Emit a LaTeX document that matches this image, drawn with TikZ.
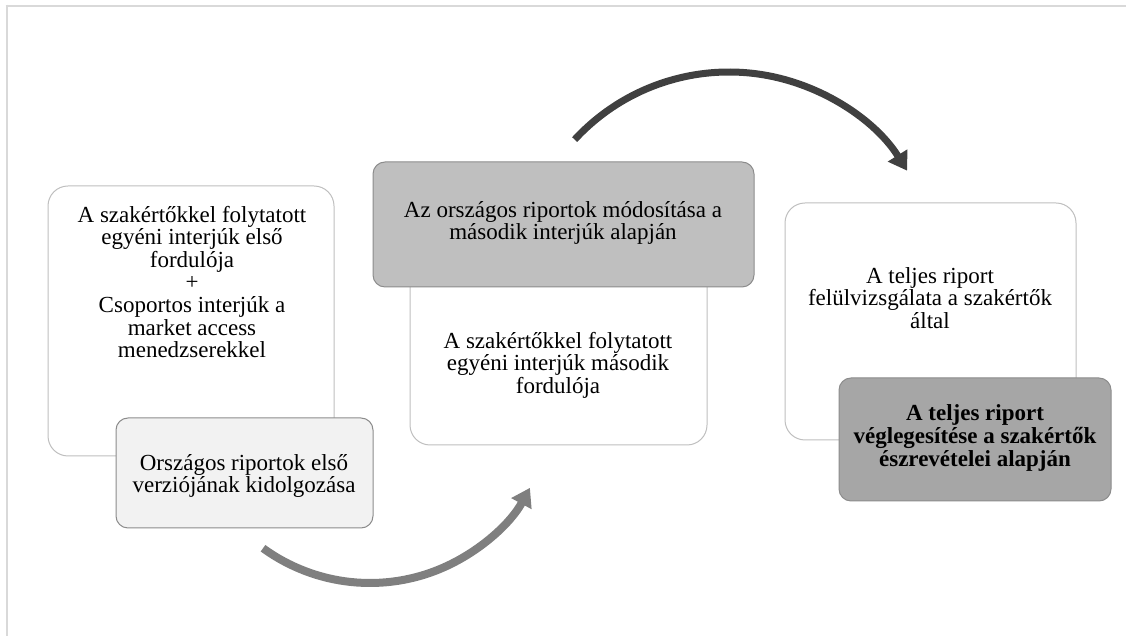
\documentclass[tikz,border=0pt]{standalone}
\usepackage{fontspec}
\setmainfont{Liberation Serif}
\usetikzlibrary{arrows.meta,calc}
\definecolor{frameline}{HTML}{D9D9D9}
\definecolor{whiteborder}{HTML}{BFBFBF}
\definecolor{lightfill}{HTML}{F2F2F2}
\definecolor{midfill}{HTML}{BFBFBF}
\definecolor{darkfill}{HTML}{A6A6A6}
\definecolor{boxborder}{HTML}{8C8C8C}
\definecolor{arrowlight}{HTML}{7F7F7F}
\definecolor{arrowdark}{HTML}{404040}
\begin{document}
\begin{tikzpicture}[x=1pt,y=1pt,
  whitebox/.style={draw=whiteborder, line width=1pt, fill=white, rounded corners=20pt, inner sep=0pt},
  graybox/.style={draw=boxborder, line width=1pt, rounded corners=12pt, inner sep=0pt},
  txt/.style={align=center, inner sep=0pt, font=\fontsize{23}{22.6}\selectfont},
  flowarrow/.style={line width=#1, line cap=butt}
]
\useasboundingbox (0,0) rectangle (1126,636);
% frame lines
\draw[frameline, line width=2pt] (5.5,630.3) -- (1126,630.3);
\draw[frameline, line width=2pt] (6.5,631.3) -- (6.5,0);

% white (back) boxes
\node[whitebox, minimum width=286pt, minimum height=270pt] (b1) at (191,315) {};
\node[whitebox, minimum width=297pt, minimum height=270pt] (b2) at (558.5,326) {};
\node[whitebox, minimum width=291pt, minimum height=237pt] (b3) at (930.5,314.5) {};

% front boxes
\node[graybox, fill=lightfill, minimum width=257pt, minimum height=110pt] (f1) at (244.5,163) {};
\node[graybox, fill=midfill, minimum width=381pt, minimum height=125pt] (f2) at (563.5,411.5) {};
\node[graybox, fill=darkfill, minimum width=272pt, minimum height=123pt] (f3) at (975,196.5) {};

% texts
\node[txt] (t1) at (192,354) {A szakértőkkel folytatott\\egyéni interjúk első\\fordulója\\+\\Csoportos interjúk a\\market access\\menedzserekkel};
\node[txt] (t1b) at (244,160) {Országos riportok első\\verziójának kidolgozása};
\node[txt] (t2top) at (563,413) {Az országos riportok módosítása a\\második interjúk alapján};
\node[txt] (t2) at (558,271) {A szakértőkkel folytatott\\egyéni interjúk második\\fordulója};
\node[txt] (t3) at (930,338) {A teljes riport\\felülvizsgálata a szakértők\\által};
\node[txt, font=\fontsize{23}{22.6}\selectfont\bfseries] (t3b) at (975,198) {A teljes riport\\véglegesítése a szakértők\\észrevételei alapján};

% arrows
\coordinate (c1) at (370,235);
\coordinate (c2) at (729,354);
\draw[arrowlight, line width=8pt, -{Triangle[length=18pt,width=22pt]}]
  ($(c1)+(234:182)$) arc[start angle=234, end angle=331.5, radius=182];
\draw[arrowdark, line width=7pt, -{Triangle[length=18pt,width=22pt]}]
  ($(c2)+(137.3:210)$) arc[start angle=137.3, end angle=32, radius=210];
\end{tikzpicture}
\end{document}
